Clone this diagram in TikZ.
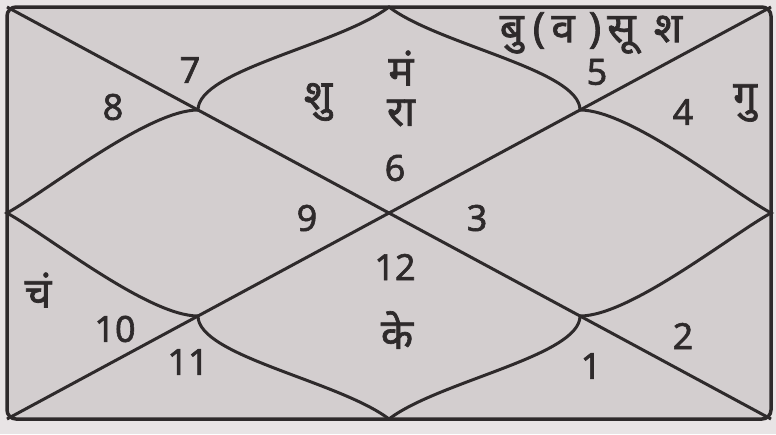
\documentclass[tikz,border=0pt]{standalone}
\usepackage{fontspec}
\setmainfont{Noto Sans}[Script=Devanagari,FakeBold=1.6]
\usepackage{tikz}
\definecolor{chartInk}{HTML}{2E2A2B}
\definecolor{chartPaper}{HTML}{D3CECF}
\definecolor{chartEdge}{HTML}{E8E4E5}

\begin{document}
\begin{tikzpicture}[x=1pt,y=-1pt,line width=3pt,chartInk,
  lbl/.style={text=chartInk,inner sep=0pt,font=\fontsize{36}{38}\selectfont},
  graha/.style={text=chartInk,inner sep=0pt,font=\fontsize{42}{44}\selectfont}]
\fill[chartEdge] (0,0) rectangle (776,434);
\useasboundingbox (0,0) rectangle (776,434);
% frame and corners
\coordinate (tl) at (7,7);
\coordinate (tr) at (771,7);
\coordinate (bl) at (7,419);
\coordinate (br) at (771,419);
\filldraw[fill=chartPaper,line width=3.5pt,rounded corners=9pt] (tl) rectangle (br);
% edge midpoints and quarter points
\coordinate (tm) at (389,7);
\coordinate (bm) at (389,419);
\coordinate (lm) at (7,213);
\coordinate (rm) at (771,213);
\coordinate (q1) at (198,110);
\coordinate (q2) at (580,110);
\coordinate (q3) at (198,316);
\coordinate (q4) at (580,316);
\draw (tl) -- (br);
\draw (bl) -- (tr);
% petals
\draw (q1) .. controls +(0,-40) and +(-50,38) .. (tm) .. controls +(50,38) and +(0,-40) .. (q2);
\draw (q2) .. controls +(50,0) and +(-40,-22) .. (rm) .. controls +(-40,22) and +(50,0) .. (q4);
\draw (q4) .. controls +(0,40) and +(50,-38) .. (bm) .. controls +(-50,-38) and +(0,40) .. (q3);
\draw (q3) .. controls +(-50,0) and +(40,22) .. (lm) .. controls +(40,-22) and +(-50,0) .. (q1);
% house numbers
\node[lbl] (h1) at (591,366) {1};
\node[lbl] (h2) at (683,336) {2};
\node[lbl] (h3) at (477,218) {3};
\node[lbl] (h4) at (683,112) {4};
\node[lbl] (h5) at (597,72) {5};
\node[lbl] (h6) at (395,168) {6};
\node[lbl] (h7) at (190,70) {7};
\node[lbl] (h8) at (113,107) {8};
\node[lbl] (h9) at (307,218) {9};
\node[lbl] (h10) at (115,329) {10};
\node[lbl] (h11) at (188,362) {11};
\node[lbl] (h12) at (395,267) {12};
% planets
\node[graha] (bu) at (591,33) {\mbox{बु}\kern9pt\mbox{(}\kern6pt\mbox{व}\kern14pt\mbox{)}\kern6pt\mbox{सू}\kern18pt\mbox{श}};
\node[graha] (gu) at (745,103) {गु};
\node[graha] (ma) at (401,68) {मं};
\node[graha] (ra) at (401,113) {रा};
\node[graha] (shu) at (318,102) {शु};
\node[graha] (ke) at (397,330) {के};
\node[graha] (ch) at (38,290) {चं};
\end{tikzpicture}
\end{document}
